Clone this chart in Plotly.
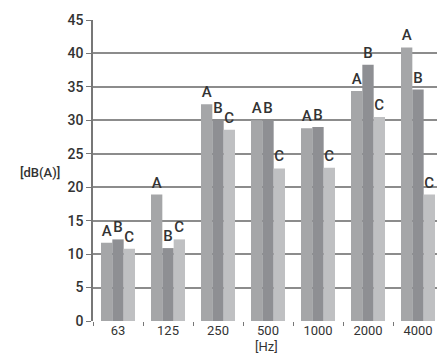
import plotly.graph_objects as go

categories = ["63", "125", "250", "500", "1000", "2000", "4000"]
series_a = [11.7, 18.9, 32.4, 30.0, 28.8, 34.4, 40.9]
series_b = [12.2, 10.9, 30.0, 30.0, 29.0, 38.3, 34.6]
series_c = [10.8, 12.2, 28.6, 22.8, 22.9, 30.5, 18.9]
series_names = ["A", "B", "C"]
colors = ["#a5a6a8", "#8e8f93", "#bfc0c2"]
y_ticks = [0, 5, 10, 15, 20, 25, 30, 35, 40, 45]

font_family = "Roboto, Arial"
text_color = "#333333"

W, H = 437, 358
L, R, T, B = 93, 0, 20, 37
pw, ph = W - L - R, H - T - B

fig = go.Figure()
for name, vals, col in zip(series_names, [series_a, series_b, series_c], colors):
    fig.add_trace(go.Bar(
        x=categories, y=vals, name=name, marker=dict(color=col, line=dict(width=0)),
        text=[name] * len(vals), textposition="outside", cliponaxis=False,
        textfont=dict(family=font_family, size=15, color=text_color, weight=500),
    ))

fig.update_layout(
    width=W, height=H,
    margin=dict(l=L, r=R, t=T, b=B),
    paper_bgcolor="white", plot_bgcolor="white",
    barmode="group", bargap=0.32, bargroupgap=0,
    showlegend=False,
    xaxis=dict(
        type="category", range=[-0.5, 6.38], automargin=False,
        tickson="boundaries", ticks="outside", ticklen=4, tickcolor="#777",
        showgrid=False, showline=False, zeroline=False,
        tickfont=dict(family=font_family, size=13, color=text_color),
    ),
    yaxis=dict(
        range=[0, 45], tickvals=y_ticks, ticks="outside", ticklen=5, tickcolor="#777",
        automargin=False,
        showgrid=True, gridcolor="#8c8c8c", gridwidth=1.5,
        showline=True, linecolor="#777", linewidth=1.5, zeroline=False,
        tickfont=dict(family=font_family, size=14, color=text_color, weight=500),
    ),
    annotations=[
        dict(text="[dB(A)]", x=(40 - L) / pw, y=(H - B - 172) / ph, xref="paper", yref="paper",
             xanchor="center", yanchor="middle", showarrow=False,
             font=dict(family=font_family, size=13, color=text_color, weight=500)),
        dict(text="[Hz]", x=(266 - L) / pw, y=(H - B - 347) / ph, xref="paper", yref="paper",
             showarrow=False, xanchor="center", yanchor="middle",
             font=dict(family=font_family, size=13, color=text_color)),
    ],
)

fig.write_html(
    "out.html",
    config={"displayModeBar": False},
    post_script="document.body.style.margin='0';document.body.style.overflow='hidden';",
)
